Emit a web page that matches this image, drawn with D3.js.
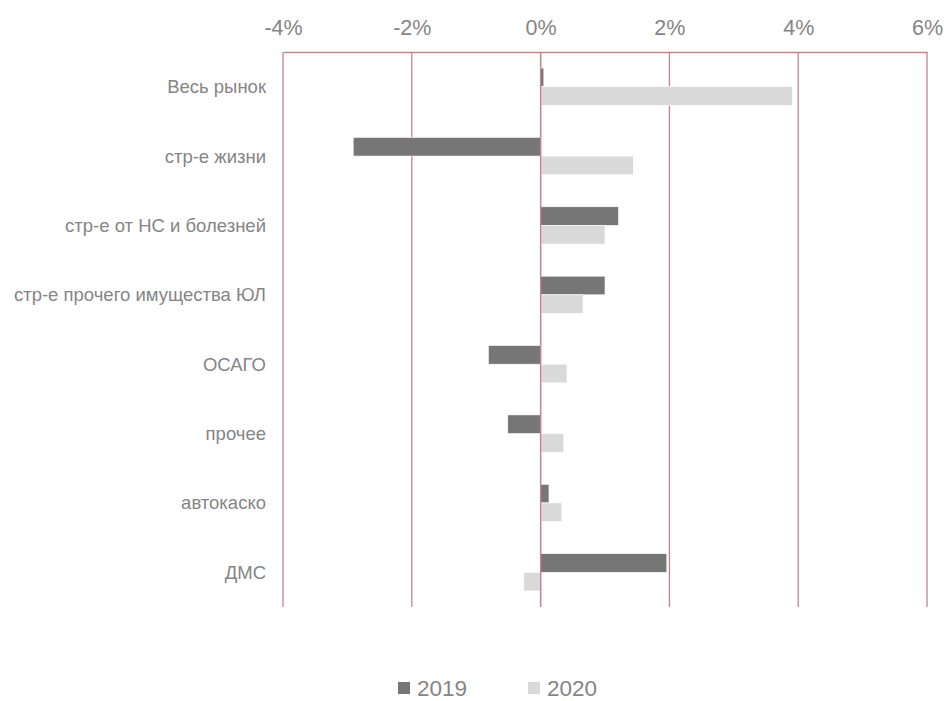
<!DOCTYPE html>
<html>
<head>
<meta charset="utf-8">
<script src="https://cdn.jsdelivr.net/npm/d3@7"></script>
<style>
  html, body { margin: 0; padding: 0; background: #fff; overflow: hidden; }
  svg { display: block; font-family: "Liberation Sans", Arial, sans-serif; }
</style>
</head>
<body>
<svg id="chart" width="944" height="701"></svg>
<script>
// Growth contribution by line of business, %
const categories = [
  "Весь рынок",
  "стр-е жизни",
  "стр-е от НС и болезней ",
  "стр-е прочего имущества ЮЛ",
  "ОСАГО",
  "прочее",
  "автокаско",
  "ДМС"
];
const seriesNames = ["2019", "2020"];
const values2019 = [0.05, -2.91, 1.21, 1.00, -0.81, -0.51, 0.13, 1.96];
const values2020 = [3.91, 1.44, 1.00, 0.66, 0.41, 0.36, 0.33, -0.26];
const tickValues = [-4, -2, 0, 2, 4, 6];

const colors = { "2019": "#767676", "2020": "#d9d9d9" };
const gridColor = "#c4858a";
const textColor = "#858585";

const svg = d3.select("#chart");
const plot = { left: 283, right: 927, top: 52, bottom: 607 };

const x = d3.scaleLinear().domain([-4, 6]).range([plot.left, plot.right]);
const y = d3.scaleBand().domain(categories).range([plot.top, plot.bottom]);
const inner = d3.scaleBand().domain(seriesNames)
  .range([0, y.bandwidth()]).paddingOuter(0.86);

// vertical gridlines
svg.append("g").selectAll("line").data(tickValues).join("line")
  .attr("x1", d => x(d)).attr("x2", d => x(d))
  .attr("y1", plot.top).attr("y2", plot.bottom)
  .attr("stroke", gridColor).attr("stroke-width", 1.3);

// top value axis
const axis = svg.append("g").attr("transform", `translate(0,${plot.top})`)
  .call(d3.axisTop(x).tickValues(tickValues).tickSize(0).tickPadding(17)
    .tickFormat(d => d + "%"));
axis.select(".domain").attr("stroke", gridColor).attr("stroke-width", 1.3);
axis.selectAll("text").attr("fill", textColor).attr("font-size", 21.5)
  .attr("font-family", "Liberation Sans, Arial, sans-serif");

// bars
const rows = categories.map((c, i) => ({ c, v: [values2019[i], values2020[i]] }));
const groups = svg.append("g").selectAll("g").data(rows).join("g")
  .attr("transform", d => `translate(0,${y(d.c)})`);
groups.selectAll("rect")
  .data(d => seriesNames.map((s, j) => ({ s, v: d.v[j] })))
  .join("rect")
  .attr("x", d => x(Math.min(0, d.v)))
  .attr("width", d => Math.abs(x(d.v) - x(0)))
  .attr("y", d => inner(d.s))
  .attr("height", inner.bandwidth())
  .attr("fill", d => colors[d.s])
  .attr("stroke", "#ffffff").attr("stroke-width", 0.6);

// redraw the zero line over the bars
svg.append("line")
  .attr("x1", x(0)).attr("x2", x(0)).attr("y1", plot.top).attr("y2", plot.bottom)
  .attr("stroke", gridColor).attr("stroke-width", 1.3);

// category labels
svg.append("g").selectAll("text").data(categories).join("text")
  .attr("x", plot.left - 17)
  .attr("y", d => y(d) + y.bandwidth() / 2)
  .attr("dy", "0.35em")
  .attr("text-anchor", "end")
  .attr("fill", textColor).attr("font-size", 18.5)
  .text(d => d);

// legend
const legendItems = [
  { s: "2019", x: 398 },
  { s: "2020", x: 528 }
];
const lg = svg.append("g").selectAll("g").data(legendItems).join("g")
  .attr("transform", d => `translate(${d.x},688)`);
lg.append("rect").attr("x", 0).attr("y", -6).attr("width", 12).attr("height", 12)
  .attr("fill", d => colors[d.s]);
lg.append("text").attr("x", 19).attr("dy", "0.36em")
  .attr("fill", textColor).attr("font-size", 22.5)
  .text(d => d.s);
</script>
</body>
</html>
